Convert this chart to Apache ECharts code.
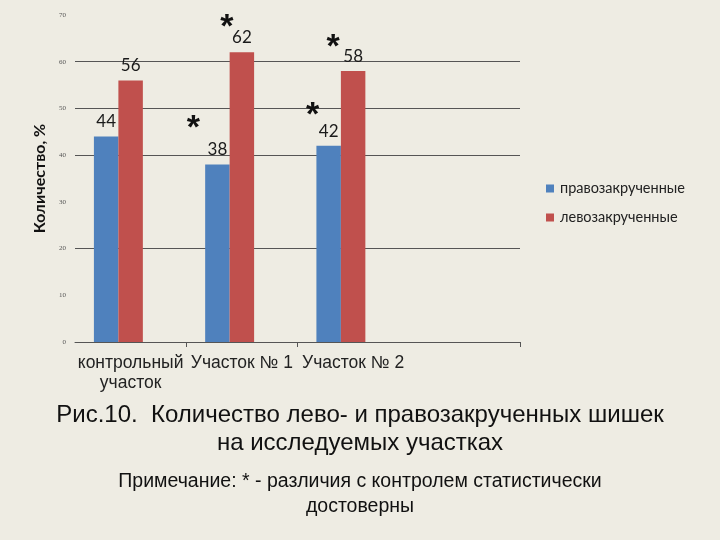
<!DOCTYPE html>
<html>
<head>
<meta charset="utf-8">
<script src="https://cdn.jsdelivr.net/npm/echarts@6/dist/echarts.min.js"></script>
<style>html,body{margin:0;padding:0;background:#EEECE3;}#c{width:720px;height:540px;}</style>
</head>
<body>
<div id="c"></div>
<script>
const categories = ['контрольный\nучасток', 'Участок № 1', 'Участок № 2', ''];
const seriesNames = ['правозакрученные', 'левозакрученные'];
const rightTwisted = [44, 38, 42, null];
const leftTwisted = [56, 62, 58, null];
const rightSignificant = [false, true, true, false];
const leftSignificant = [false, true, true, false];
const yTicks = [0, 10, 20, 30, 40, 50, 60, 70];
const titleText = 'Рис.10.  Количество лево- и правозакрученных шишек\nна исследуемых участках';
const noteText = 'Примечание: * - различия с контролем статистически\nдостоверны';

const starOffsetsRight = [null, [-24, -36], [-16, -30], null];
const starOffsetsLeft = [null, [-15, -25], [-20, -23], null];

function stars(values, flags, offsets) {
  const out = [];
  values.forEach((v, i) => {
    if (flags[i] && v != null) {
      out.push({ coord: [i, v], label: { offset: offsets[i] } });
    }
  });
  return out;
}

const chart = echarts.init(document.getElementById('c'));
const labelStyle = { show: true, position: 'top', distance: 6, fontSize: 17, color: '#1a1a1a', fontFamily: 'Lato' };
const starMark = (data) => ({
  symbol: 'circle', symbolSize: 0,
  label: { show: true, formatter: '*', fontSize: 34, fontWeight: 'bold', color: '#111', fontFamily: 'Liberation Sans' },
  data: data
});

chart.setOption({
  backgroundColor: '#EEECE3',
  animation: false,
  title: [
    { text: titleText, left: 'center', top: 396, textStyle: { fontSize: 24, fontWeight: 'normal', color: '#111', lineHeight: 28, fontFamily: 'Liberation Sans' } },
    { text: noteText, left: 'center', top: 464, textStyle: { fontSize: 19.5, fontWeight: 'normal', color: '#111', lineHeight: 25, fontFamily: 'Liberation Sans' } }
  ],
  legend: {
    data: seriesNames, orient: 'vertical', left: 541, top: 176,
    itemWidth: 8, itemHeight: 8, itemGap: 14, icon: 'rect',
    textStyle: { fontSize: 14.5, color: '#222', fontFamily: 'Lato', padding: [0, 0, 0, 1] }
  },
  grid: { left: 75, right: 200, top: 15, bottom: 198, containLabel: false },
  xAxis: {
    type: 'category', data: categories,
    axisLine: { lineStyle: { color: '#555', width: 1 } },
    axisTick: { show: true, length: 5, lineStyle: { color: '#555' }, interval: function (i) { return i === 1 || i === 2; } },
    axisLabel: { interval: 0, fontSize: 17.5, color: '#222', lineHeight: 20, margin: 11, fontFamily: 'Liberation Sans' }
  },
  yAxis: {
    type: 'value', min: yTicks[0], max: yTicks[yTicks.length - 1], interval: 10,
    name: 'Количество, %', nameLocation: 'middle', nameGap: 25, nameRotate: 90,
    nameTextStyle: { fontSize: 16, fontWeight: 'bold', color: '#111', fontFamily: 'Lato' },
    axisLine: { show: false },
    axisTick: { show: false },
    axisLabel: { fontSize: 7, color: '#555', margin: 9, fontFamily: 'Liberation Serif' },
    splitLine: { show: true, lineStyle: { color: ['#555', 'rgba(0,0,0,0)', '#555', 'rgba(0,0,0,0)', '#555', '#555', '#555', 'rgba(0,0,0,0)'], width: 1 } }
  },
  series: [
    { name: seriesNames[0], type: 'bar', data: rightTwisted, barGap: '0%', barCategoryGap: '34%',
      itemStyle: { color: '#4F81BD' }, label: labelStyle, markPoint: starMark(stars(rightTwisted, rightSignificant, starOffsetsRight)) },
    { name: seriesNames[1], type: 'bar', data: leftTwisted, barGap: '0%', barCategoryGap: '34%',
      itemStyle: { color: '#C0504D' }, label: labelStyle, markPoint: starMark(stars(leftTwisted, leftSignificant, starOffsetsLeft)) },
    { name: 'empty', type: 'bar', data: [null, null, null, null], barGap: '0%', barCategoryGap: '34%' }
  ]
});
</script>
</body>
</html>
